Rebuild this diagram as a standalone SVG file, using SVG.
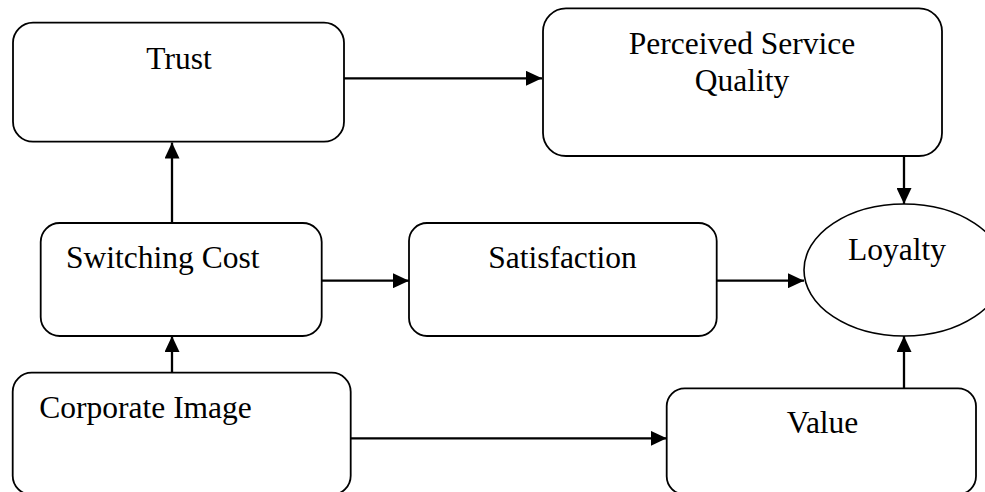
<svg xmlns="http://www.w3.org/2000/svg" width="985" height="492" viewBox="0 0 985 492">
<style>
.box{fill:#fff;stroke:#000;stroke-width:1.8}
.lbl{font-family:"Liberation Serif","Times New Roman",serif;font-size:31.5px;fill:#000}
.c{text-anchor:middle}
.edge{stroke:#000;stroke-width:2.3;fill:none;marker-end:url(#ah)}
</style>
<defs>
<marker id="ah" markerUnits="userSpaceOnUse" markerWidth="16" markerHeight="15" refX="16" refY="7.5" orient="auto">
<path d="M0,0 L16,7.5 L0,15 Z" fill="#000"/>
</marker>
</defs>
<rect width="985" height="492" fill="#fff"/>
<g id="trust">
<rect class="box" x="13" y="22.7" width="331" height="119" rx="20"/>
<text class="lbl c" x="179" y="69">Trust</text>
</g>
<g id="psq">
<rect class="box" x="543" y="8.3" width="399" height="147.7" rx="23"/>
<text class="lbl c" x="742" y="54">Perceived Service</text>
<text class="lbl c" x="742" y="91">Quality</text>
</g>
<g id="switching">
<rect class="box" x="40.7" y="223" width="281" height="113" rx="19"/>
<text class="lbl" x="66" y="268">Switching Cost</text>
</g>
<g id="satisfaction">
<rect class="box" x="409" y="223" width="307.7" height="113" rx="18"/>
<text class="lbl c" x="562.5" y="268">Satisfaction</text>
</g>
<g id="loyalty">
<ellipse cx="904" cy="270" rx="100" ry="66" fill="#fff" stroke="#000" stroke-width="1.6"/>
<text class="lbl c" x="897" y="260">Loyalty</text>
</g>
<g id="corporate">
<rect class="box" x="12.7" y="372.7" width="338" height="122" rx="19"/>
<text class="lbl" x="39.3" y="418">Corporate Image</text>
</g>
<g id="value">
<rect class="box" x="666.7" y="388.3" width="309.3" height="106" rx="18"/>
<text class="lbl c" x="822.5" y="433">Value</text>
</g>
<g id="connectors">
<line class="edge" x1="344" y1="78.3" x2="542" y2="78.3"/>
<line class="edge" x1="904" y1="156" x2="904" y2="204"/>
<line class="edge" x1="172" y1="223" x2="172" y2="142.5"/>
<line class="edge" x1="321.7" y1="280.7" x2="409" y2="280.7"/>
<line class="edge" x1="716.7" y1="280.7" x2="804" y2="280.7"/>
<line class="edge" x1="172" y1="372.7" x2="172" y2="336"/>
<line class="edge" x1="350.7" y1="438.3" x2="666.7" y2="438.3"/>
<line class="edge" x1="904" y1="388.3" x2="904" y2="336"/>
</g>
</svg>
